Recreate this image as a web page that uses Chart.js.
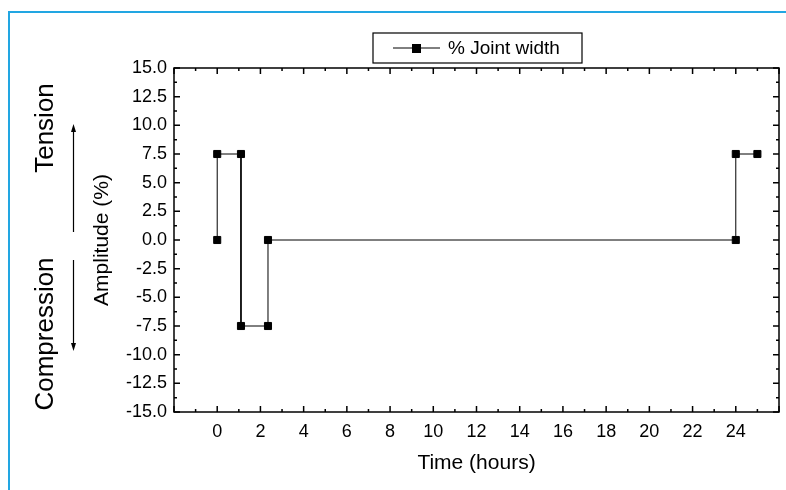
<!DOCTYPE html>
<html>
<head>
<meta charset="utf-8">
<script src="https://cdn.jsdelivr.net/npm/chart.js@4.4.1/dist/chart.umd.min.js"></script>
<style>
  body { margin: 0; background: #fff; }
  #wrap { position: relative; width: 786px; height: 490px; }
  #frame { position: absolute; left: 8px; top: 11px; right: -4px; bottom: -4px;
           border-left: 2px solid #22a6e2; border-top: 2px solid #22a6e2; }
  canvas { position: absolute; left: 0; top: 0; }
</style>
</head>
<body>
<div id="wrap">
  <div id="frame"></div>
  <canvas id="chart" width="786" height="490"></canvas>
</div>
<script>
// time (hours) and amplitude (%)
const timeHours = [0, 0, 1.1, 1.1, 2.35, 2.35, 24, 24, 25];
const amplitude = [0, 7.5, 7.5, -7.5, -7.5, 0, 0, 7.5, 7.5];
const seriesName = '% Joint width';
const xTicks = [0, 2, 4, 6, 8, 10, 12, 14, 16, 18, 20, 22, 24];
const yTicks = [-15, -12.5, -10, -7.5, -5, -2.5, 0, 2.5, 5, 7.5, 10, 12.5, 15];

const font = 'Liberation Sans, Arial, sans-serif';

const points = timeHours.map((t, i) => ({ x: t, y: amplitude[i] }));

// frame, inward ticks, legend and side notes
const decorations = {
    id: 'decorations',
    afterDraw(chart) {
        const c = chart.ctx;
        const a = chart.chartArea;
        const xs = chart.scales.x, ys = chart.scales.y;
        c.save();
        c.strokeStyle = '#000';
        c.lineWidth = 1.5;
        c.strokeRect(a.left, a.top, a.right - a.left, a.bottom - a.top);

        c.lineWidth = 1.5;
        c.beginPath();
        for (let v = -2; v <= 26; v += 1) {
            const px = xs.getPixelForValue(v);
            const len = (v % 2 === 0) ? 6 : 3;
            c.moveTo(px, a.bottom); c.lineTo(px, a.bottom - len);
            c.moveTo(px, a.top); c.lineTo(px, a.top + len);
        }
        for (let v = -15; v <= 15; v += 1.25) {
            const py = ys.getPixelForValue(v);
            const major = Math.abs(v / 2.5 - Math.round(v / 2.5)) < 1e-6;
            const len = major ? 6 : 3;
            c.moveTo(a.left, py); c.lineTo(a.left + len, py);
            c.moveTo(a.right, py); c.lineTo(a.right - len, py);
        }
        c.stroke();

        // legend box
        const lx = 373, ly = 33, lw = 209, lh = 30;
        c.lineWidth = 1.2;
        c.strokeRect(lx, ly, lw, lh);
        const my = ly + lh / 2;
        c.lineWidth = 1;
        c.beginPath();
        c.moveTo(lx + 20, my); c.lineTo(lx + 67, my);
        c.stroke();
        c.fillStyle = '#000';
        c.fillRect(lx + 39, my - 4, 9, 9);
        c.font = '19px ' + font;
        c.textBaseline = 'middle';
        c.textAlign = 'left';
        c.fillText(chart.data.datasets[0].label, lx + 75, my + 1);

        // Tension / Compression notes with arrows
        c.font = '26px ' + font;
        c.textBaseline = 'alphabetic';
        c.textAlign = 'center';
        c.save(); c.translate(53, 128); c.rotate(-Math.PI / 2); c.fillText('Tension', 0, 0); c.restore();
        c.save(); c.translate(53, 334); c.rotate(-Math.PI / 2); c.fillText('Compression', 0, 0); c.restore();

        c.lineWidth = 1.2;
        c.beginPath();
        c.moveTo(73.5, 232); c.lineTo(73.5, 128);
        c.moveTo(73.5, 260); c.lineTo(73.5, 347);
        c.stroke();
        c.beginPath();
        c.moveTo(73.5, 124); c.lineTo(71, 132); c.lineTo(76, 132); c.closePath();
        c.moveTo(73.5, 351); c.lineTo(71, 343); c.lineTo(76, 343); c.closePath();
        c.fill();
        c.restore();
    }
};

new Chart(document.getElementById('chart'), {
    type: 'scatter',
    data: {
        datasets: [{
            label: seriesName,
            data: points,
            showLine: true,
            borderColor: '#000',
            backgroundColor: '#000',
            borderWidth: 1,
            pointStyle: 'rect',
            pointRadius: 5,
            pointHoverRadius: 5
        }]
    },
    options: {
        responsive: false,
        animation: false,
        layout: { padding: { left: 80, top: 68, right: 7, bottom: 0 } },
        plugins: {
            legend: { display: false },
            tooltip: { enabled: false }
        },
        scales: {
            x: {
                type: 'linear',
                min: -2,
                max: 26,
                afterBuildTicks: s => { s.ticks = xTicks.map(v => ({ value: v })); },
                afterFit: s => { s.height = 78; },
                grid: { display: false, drawTicks: false },
                border: { display: false },
                ticks: {
                    padding: 9,
                    color: '#000',
                    font: { family: font, size: 18 }
                },
                title: {
                    display: true,
                    text: 'Time (hours)',
                    color: '#000',
                    font: { family: font, size: 21 },
                    padding: { top: 0, bottom: 14 }
                }
            },
            y: {
                min: -15,
                max: 15,
                afterBuildTicks: s => { s.ticks = yTicks.map(v => ({ value: v })); },
                afterFit: s => { s.width = 94; },
                grid: { display: false, drawTicks: false },
                border: { display: false },
                ticks: {
                    padding: 7,
                    color: '#000',
                    font: { family: font, size: 18 },
                    callback: v => v.toFixed(1)
                },
                title: {
                    display: true,
                    text: 'Amplitude (%)',
                    color: '#000',
                    font: { family: font, size: 21 },
                    padding: { top: 10, bottom: 0 }
                }
            }
        }
    },
    plugins: [decorations]
});
</script>
</body>
</html>
